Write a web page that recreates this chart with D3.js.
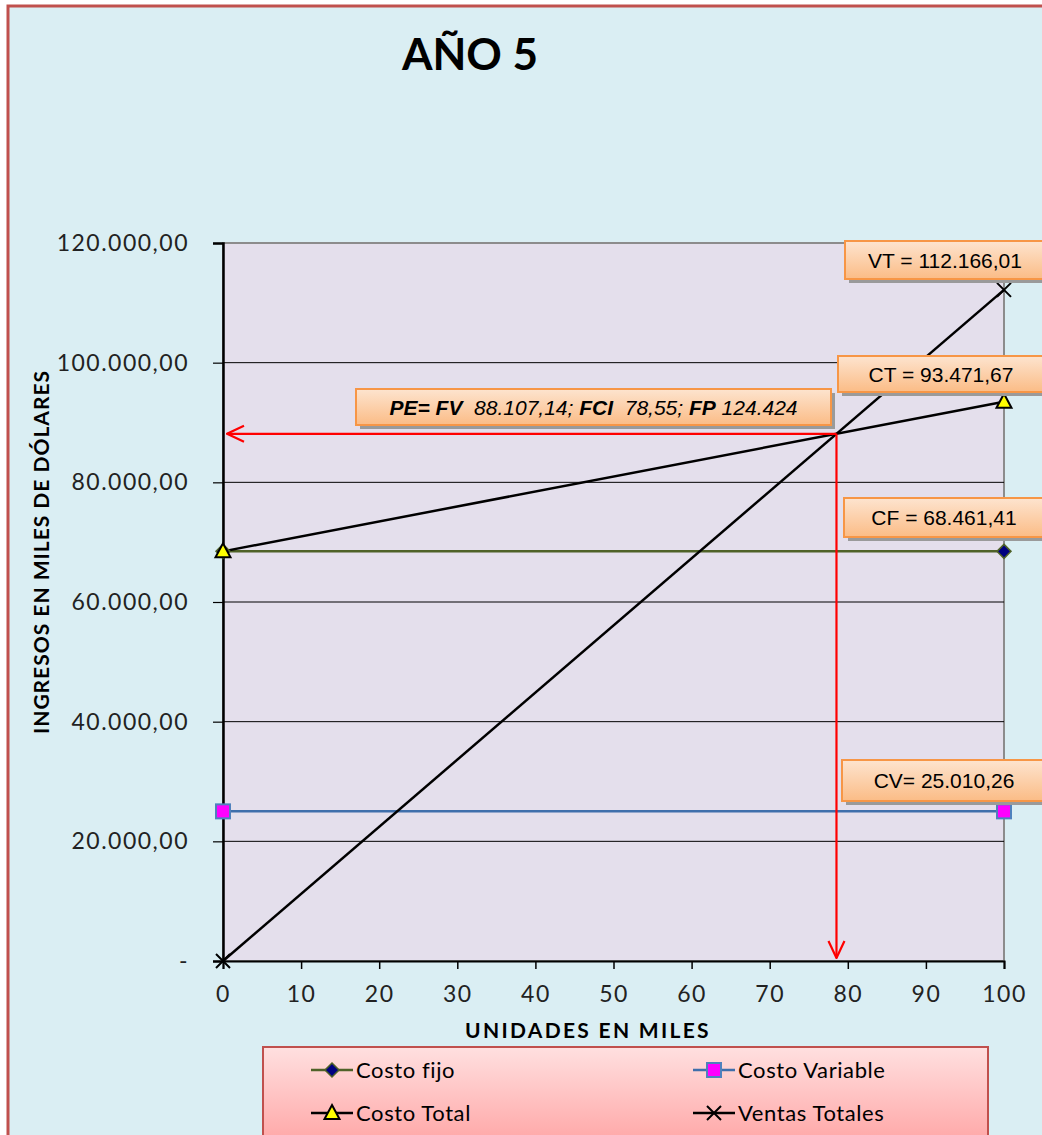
<!DOCTYPE html>
<html>
<head>
<meta charset="utf-8">
<script src="https://cdn.jsdelivr.net/npm/d3@7"></script>
<style>
  html, body { margin: 0; padding: 0; background: #ffffff; overflow: hidden; }
  svg { display: block; }
</style>
</head>
<body>
<svg id="chart" width="1042" height="1135"></svg>
<script>
// ---- Data ----
const units = [0, 100];                       // x: unidades en miles
const costoFijo = [68461.41, 68461.41];
const costoVariable = [25010.26, 25010.26];
const costoTotal = [68461.41, 93471.67];
const ventasTotales = [0, 112166.01];
const xTicks = [0, 10, 20, 30, 40, 50, 60, 70, 80, 90, 100];
const yTicks = [0, 20000, 40000, 60000, 80000, 100000, 120000];
const peUnits = 78.55;       // FCI
const peValue = 88107.14;    // FV
const peFP = 124424;         // FP

const seriesNames = ["Costo fijo", "Costo Variable", "Costo Total", "Ventas Totales"];

// ---- Setup ----
const es = d3.formatLocale({ decimal: ",", thousands: ".", grouping: [3], currency: ["", ""] });
const fmt2 = es.format(",.2f");
const fmtInt = es.format(",d");

const svg = d3.select("#chart");
const W = 1042, H = 1135;
const plot = { left: 223, right: 1004, top: 243, bottom: 961 };
const x = d3.scaleLinear().domain([0, 100]).range([plot.left, plot.right]);
const y = d3.scaleLinear().domain([0, 120000]).range([plot.bottom, plot.top]);

const defs = svg.append("defs");
const gOr = defs.append("linearGradient").attr("id", "calloutFill").attr("x1", 0).attr("y1", 0).attr("x2", 0).attr("y2", 1);
gOr.append("stop").attr("offset", "0%").attr("stop-color", "#fde4cf");
gOr.append("stop").attr("offset", "100%").attr("stop-color", "#fbbc86");
const gLg = defs.append("linearGradient").attr("id", "legendFill").attr("x1", 0).attr("y1", 0).attr("x2", 0).attr("y2", 1);
gLg.append("stop").attr("offset", "0%").attr("stop-color", "#ffe0e0");
gLg.append("stop").attr("offset", "100%").attr("stop-color", "#ff9e9e");
const arrow = defs.append("marker").attr("id", "arrowHead")
  .attr("viewBox", "0 0 20 20").attr("refX", 19).attr("refY", 10)
  .attr("markerWidth", 20).attr("markerHeight", 20).attr("markerUnits", "userSpaceOnUse")
  .attr("orient", "auto");
arrow.append("path").attr("d", "M2,2 L19,10 L2,18").attr("fill", "none").attr("stroke", "#ff0000").attr("stroke-width", 2.2);

// Chart frame
svg.append("rect").attr("x", 8).attr("y", 6).attr("width", W + 20).attr("height", H + 20)
  .attr("fill", "#daeef3").attr("stroke", "#c0504d").attr("stroke-width", 3);

// Title
svg.append("text").attr("x", 470).attr("y", 70).attr("text-anchor", "middle")
  .attr("font-family", "Lato, sans-serif").attr("font-weight", 700).attr("font-size", 44)
  .attr("fill", "#000").text("AÑO 5");

// Plot area
svg.append("rect").attr("x", plot.left).attr("y", plot.top)
  .attr("width", plot.right - plot.left).attr("height", plot.bottom - plot.top)
  .attr("fill", "#e4dfec").attr("stroke", "#8c8c8c").attr("stroke-width", 2);

// Horizontal grid
svg.append("g").selectAll("line").data(yTicks.filter(d => d > 0 && d < 120000)).join("line")
  .attr("x1", plot.left).attr("x2", plot.right)
  .attr("y1", d => y(d)).attr("y2", d => y(d))
  .attr("stroke", "#000").attr("stroke-width", 1);

// Y axis
const yAxis = d3.axisLeft(y).tickValues(yTicks).tickSize(10).tickPadding(24)
  .tickFormat(d => d === 0 ? "-" : fmt2(d));
const gy = svg.append("g").attr("transform", `translate(${plot.left},0)`).call(yAxis);
gy.select(".domain").attr("stroke", "#000").attr("stroke-width", 2.5);
gy.selectAll(".tick line").attr("stroke", "#000").attr("stroke-width", 1.2);
gy.selectAll(".tick text").attr("font-family", "Lato, sans-serif").attr("font-size", 23)
  .attr("letter-spacing", 1.5).attr("fill", "#222");

// X axis
const xAxis = d3.axisBottom(x).tickValues(xTicks).tickSize(8).tickPadding(17).tickFormat(d3.format("d"));
const gx = svg.append("g").attr("transform", `translate(0,${plot.bottom})`).call(xAxis);
gx.select(".domain").attr("stroke", "#000").attr("stroke-width", 2);
gx.selectAll(".tick line").attr("stroke", "#000").attr("stroke-width", 1.5);
gx.selectAll(".tick text").attr("font-family", "Lato, sans-serif").attr("font-size", 23)
  .attr("letter-spacing", 1.5).attr("fill", "#222");

// Axis titles
svg.append("text").attr("transform", "translate(49,552) rotate(-90)").attr("text-anchor", "middle")
  .attr("font-family", "Lato, sans-serif").attr("font-weight", 700).attr("font-size", 21)
  .attr("letter-spacing", 1).attr("fill", "#000").text("INGRESOS EN MILES DE DÓLARES");
svg.append("text").attr("x", 588).attr("y", 1038).attr("text-anchor", "middle")
  .attr("font-family", "Lato, sans-serif").attr("font-weight", 700).attr("font-size", 21)
  .attr("letter-spacing", 2.3).attr("fill", "#000").text("UNIDADES EN MILES");

// Series
const series = [
  { name: seriesNames[0], vals: costoFijo, color: "#4f6228", marker: "diamond" },
  { name: seriesNames[1], vals: costoVariable, color: "#3f6fab", marker: "square" },
  { name: seriesNames[2], vals: costoTotal, color: "#000000", marker: "triangle" },
  { name: seriesNames[3], vals: ventasTotales, color: "#000000", marker: "cross" }
];
const line = d3.line().x(d => x(d[0])).y(d => y(d[1]));
series.forEach(s => {
  svg.append("path").datum(units.map((u, i) => [u, s.vals[i]]))
    .attr("d", line).attr("fill", "none").attr("stroke", s.color).attr("stroke-width", 2.5);
});

// Break-even arrows
svg.append("line").attr("x1", x(peUnits)).attr("y1", y(peValue)).attr("x2", plot.left + 4).attr("y2", y(peValue))
  .attr("stroke", "#ff0000").attr("stroke-width", 2.2).attr("marker-end", "url(#arrowHead)");
svg.append("line").attr("x1", x(peUnits)).attr("y1", y(peValue)).attr("x2", x(peUnits)).attr("y2", plot.bottom - 3)
  .attr("stroke", "#ff0000").attr("stroke-width", 2.2).attr("marker-end", "url(#arrowHead)");

// Markers
function drawMarker(g, type, cx, cy, color) {
  if (type === "diamond") {
    g.append("path").attr("d", `M${cx},${cy - 7} L${cx + 7},${cy} L${cx},${cy + 7} L${cx - 7},${cy} Z`)
      .attr("fill", "#000080").attr("stroke", "#4f6228").attr("stroke-width", 1.5);
  } else if (type === "square") {
    g.append("rect").attr("x", cx - 7).attr("y", cy - 7).attr("width", 14).attr("height", 14)
      .attr("fill", "#ff00ff").attr("stroke", "#4f81bd").attr("stroke-width", 2);
  } else if (type === "triangle") {
    g.append("path").attr("d", `M${cx},${cy - 8} L${cx + 7.5},${cy + 6} L${cx - 7.5},${cy + 6} Z`)
      .attr("fill", "#ffff00").attr("stroke", "#000").attr("stroke-width", 2);
  } else {
    g.append("path").attr("d", `M${cx - 7},${cy - 7} L${cx + 7},${cy + 7} M${cx + 7},${cy - 7} L${cx - 7},${cy + 7}`)
      .attr("stroke", "#000").attr("stroke-width", 2);
  }
}
const mg = svg.append("g");
series.forEach(s => units.forEach((u, i) => drawMarker(mg, s.marker, x(u), y(s.vals[i]), s.color)));

// Callout boxes
function callout(bx, by, bw, bh, build) {
  const g = svg.append("g");
  g.append("rect").attr("x", bx + 4).attr("y", by + 4).attr("width", bw).attr("height", bh).attr("fill", "#9a9a9a");
  g.append("rect").attr("x", bx).attr("y", by).attr("width", bw).attr("height", bh)
    .attr("fill", "url(#calloutFill)").attr("stroke", "#f79646").attr("stroke-width", 2);
  const t = g.append("text").attr("x", bx + bw / 2).attr("y", by + bh / 2 + 7.5).attr("text-anchor", "middle")
    .attr("xml:space", "preserve")
    .attr("font-family", "'Liberation Sans', Arial, sans-serif").attr("font-size", 21).attr("fill", "#000");
  build(t);
}
const last = units.length - 1;
callout(845, 241, 200, 38, t => t.text(`VT = ${fmt2(ventasTotales[last])}`));
callout(838, 356, 206, 36, t => t.text(`CT = ${fmt2(costoTotal[last])}`));
callout(844, 498, 200, 39, t => t.text(`CF = ${fmt2(costoFijo[last])}`));
callout(842, 760, 204, 41, t => t.text(`CV= ${fmt2(costoVariable[last])}`));
callout(356, 389, 475, 36, t => {
  t.attr("font-style", "italic");
  t.append("tspan").attr("font-weight", 700).text("PE= FV");
  t.append("tspan").text(`  ${fmt2(peValue)}; `);
  t.append("tspan").attr("font-weight", 700).text("FCI");
  t.append("tspan").text(`  ${fmt2(peUnits)}; `);
  t.append("tspan").attr("font-weight", 700).text("FP");
  t.append("tspan").text(` ${fmtInt(peFP)}`);
});

// Legend
const lg = svg.append("g");
lg.append("rect").attr("x", 263).attr("y", 1047).attr("width", 725).attr("height", 110)
  .attr("fill", "url(#legendFill)").attr("stroke", "#c0504d").attr("stroke-width", 2);
const legendPos = [[311, 1070], [693, 1070], [311, 1113], [693, 1113]];
series.forEach((s, i) => {
  const [lx, ly] = legendPos[i];
  lg.append("line").attr("x1", lx).attr("x2", lx + 42).attr("y1", ly).attr("y2", ly)
    .attr("stroke", s.color).attr("stroke-width", 2.5);
  drawMarker(lg, s.marker, lx + 21, ly, s.color);
  lg.append("text").attr("x", lx + 45).attr("y", ly + 8)
    .attr("font-family", "Lato, sans-serif").attr("font-size", 22).attr("letter-spacing", 0.6)
    .attr("fill", "#000").text(s.name);
});
</script>
</body>
</html>
